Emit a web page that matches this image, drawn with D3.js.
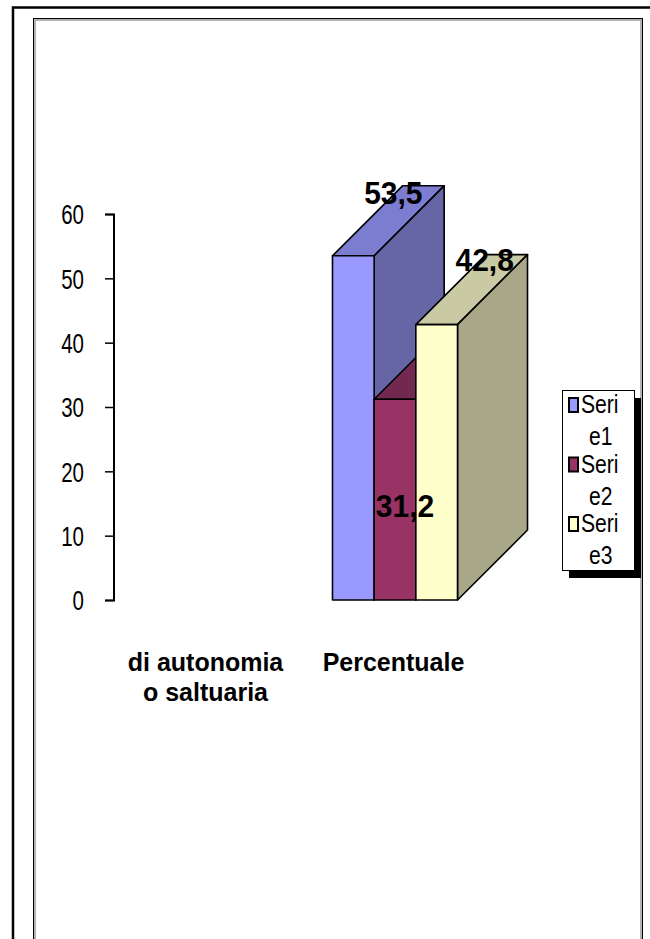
<!DOCTYPE html>
<html>
<head>
<meta charset="utf-8">
<script src="https://cdn.jsdelivr.net/npm/d3@7"></script>
<style>
  html, body { margin: 0; padding: 0; background: #fff; }
  svg { display: block; }
</style>
</head>
<body>
<svg id="chart" width="650" height="939"></svg>
<script>
// ---- data ----
const categoryLabels = [["di autonomia", "o saltuaria"], ["Percentuale"]];
const categories = categoryLabels.map(l => l.join(" "));
const seriesNames = ["Serie1", "Serie2", "Serie3"];
const serie1 = [null, 53.5];
const serie2 = [null, 31.2];
const serie3 = [null, 42.8];
const yTicks = [0, 10, 20, 30, 40, 50, 60];

const seriesValues = [serie1, serie2, serie3];

// face colours per series: front, top, side
const palette = [
  { front: "#9999ff", top: "#7c7cd0", side: "#6666a6" },
  { front: "#993366", top: "#732850", side: "#5e2243" },
  { front: "#ffffcc", top: "#c9c9a3", side: "#a8a888" }
];

const svg = d3.select("#chart");
const fontFamily = "'Liberation Sans', Arial, sans-serif";

// ---- frames ----
svg.append("path")
  .attr("d", "M13,939 V7.5 H650")
  .attr("fill", "none").attr("stroke", "#000").attr("stroke-width", 2.5);
svg.append("rect")
  .attr("x", 33.5).attr("y", 18.5).attr("width", 609).attr("height", 1000)
  .attr("fill", "none").attr("stroke", "#000").attr("stroke-width", 1);
svg.append("rect")
  .attr("x", 35).attr("y", 20).attr("width", 606).attr("height", 1000)
  .attr("fill", "none").attr("stroke", "#9a9a9a").attr("stroke-width", 1.5);

// ---- scales ----
const y = d3.scaleLinear().domain([0, 60]).range([600, 214]);
const x = d3.scaleBand().domain(categories).range([113, 489])
  .paddingInner(0.335).paddingOuter(0.1675);
const xs = d3.scaleBand().domain(seriesNames).range([0, x.bandwidth()]).padding(0);

const depth = { dx: 70, dy: -70 };

// ---- y axis ----
const tickScale = { sx: 0.82, sy: 1.1 };
const yAxis = d3.axisLeft(y).tickValues(yTicks).tickSize(8.5).tickSizeOuter(8.5)
  .tickPadding(0).tickFormat(d3.format("d"));
const gy = svg.append("g").attr("transform", "translate(113.5,0)").call(yAxis);
gy.select(".domain").attr("stroke", "#000").attr("stroke-width", 2);
gy.selectAll(".tick line").attr("stroke", "#000").attr("stroke-width", 1.5);
gy.selectAll(".tick text")
  .attr("font-family", fontFamily).attr("font-size", 25).attr("fill", "#000")
  .attr("x", 0).attr("dy", "0.36em")
  .attr("transform", `translate(-29.5,0) scale(${tickScale.sx},${tickScale.sy})`);

// ---- 3D bars ----
const bars = svg.append("g");
categories.forEach((cat, ci) => {
  seriesNames.forEach((s, si) => {
    const v = seriesValues[si][ci];
    if (v == null) return;
    const x0 = x(cat) + xs(s), x1 = x0 + xs.bandwidth();
    const yT = y(v), yB = y(0);
    const { dx, dy } = depth;
    const col = palette[si];
    const face = (pts, fill) => bars.append("path")
      .attr("d", "M" + pts.map(p => p.join(",")).join("L") + "Z")
      .attr("fill", fill).attr("stroke", "#000").attr("stroke-width", 1.6)
      .attr("stroke-linejoin", "round");
    face([[x0, yT], [x1, yT], [x1 + dx, yT + dy], [x0 + dx, yT + dy]], col.top);
    face([[x1, yT], [x1 + dx, yT + dy], [x1 + dx, yB + dy], [x1, yB]], col.side);
    face([[x0, yT], [x1, yT], [x1, yB], [x0, yB]], col.front);
  });
});

// ---- value labels ----
const itFormat = d3.formatLocale({ decimal: ",", thousands: ".", grouping: [3], currency: ["", "€"] }).format(".1f");
const labelPlacement = [
  { from: "top", ox: 40, oy: -52 },
  { from: "base", ox: 10, oy: -83 },
  { from: "top", ox: 48, oy: -54 }
];
categories.forEach((cat, ci) => {
  seriesNames.forEach((s, si) => {
    const v = seriesValues[si][ci];
    if (v == null) return;
    const cx = x(cat) + xs(s) + xs.bandwidth() / 2;
    const p = labelPlacement[si];
    const ly = (p.from === "top" ? y(v) : y(0)) + p.oy;
    svg.append("text")
      .attr("transform", `translate(${cx + p.ox},${ly}) scale(1,1.05)`)
      .attr("text-anchor", "middle")
      .attr("font-family", fontFamily).attr("font-weight", "bold").attr("font-size", 30)
      .attr("fill", "#000")
      .text(itFormat(v));
  });
});

// ---- category labels ----
categories.forEach((cat, ci) => {
  const cx = x(cat) + x.bandwidth() / 2 - 1.5;
  const t = svg.append("text")
    .attr("text-anchor", "middle")
    .attr("font-family", fontFamily).attr("font-weight", "bold").attr("font-size", 25)
    .attr("fill", "#000");
  categoryLabels[ci].forEach((line, li) => {
    t.append("tspan").attr("x", cx).attr("y", 671 + li * 30).text(line);
  });
});

// ---- legend ----
const legend = svg.append("g");
const lg = { x: 562, y: 390, w: 72, h: 180, pitch: 59.5 };
legend.append("rect")
  .attr("x", lg.x + 7).attr("y", lg.y + 8).attr("width", lg.w).attr("height", lg.h)
  .attr("fill", "#000");
legend.append("rect")
  .attr("x", lg.x + 0.5).attr("y", lg.y + 0.5).attr("width", lg.w).attr("height", lg.h)
  .attr("fill", "#fff").attr("stroke", "#000").attr("stroke-width", 1);
const legendScale = { sx: 0.88, sy: 1.1 };
seriesNames.forEach((s, i) => {
  const base = 413 + i * lg.pitch;
  legend.append("rect")
    .attr("x", 569).attr("y", base - 15).attr("width", 9).attr("height", 14)
    .attr("fill", palette[i].front).attr("stroke", "#000").attr("stroke-width", 2);
  legend.append("text")
    .attr("transform", `translate(581,${base}) scale(${legendScale.sx},${legendScale.sy})`)
    .attr("font-family", fontFamily).attr("font-size", 24).attr("fill", "#000")
    .text(s.slice(0, 4));
  legend.append("text")
    .attr("transform", `translate(589,${base + 32}) scale(${legendScale.sx},${legendScale.sy})`)
    .attr("font-family", fontFamily).attr("font-size", 24).attr("fill", "#000")
    .text(s.slice(4));
});
</script>
</body>
</html>
